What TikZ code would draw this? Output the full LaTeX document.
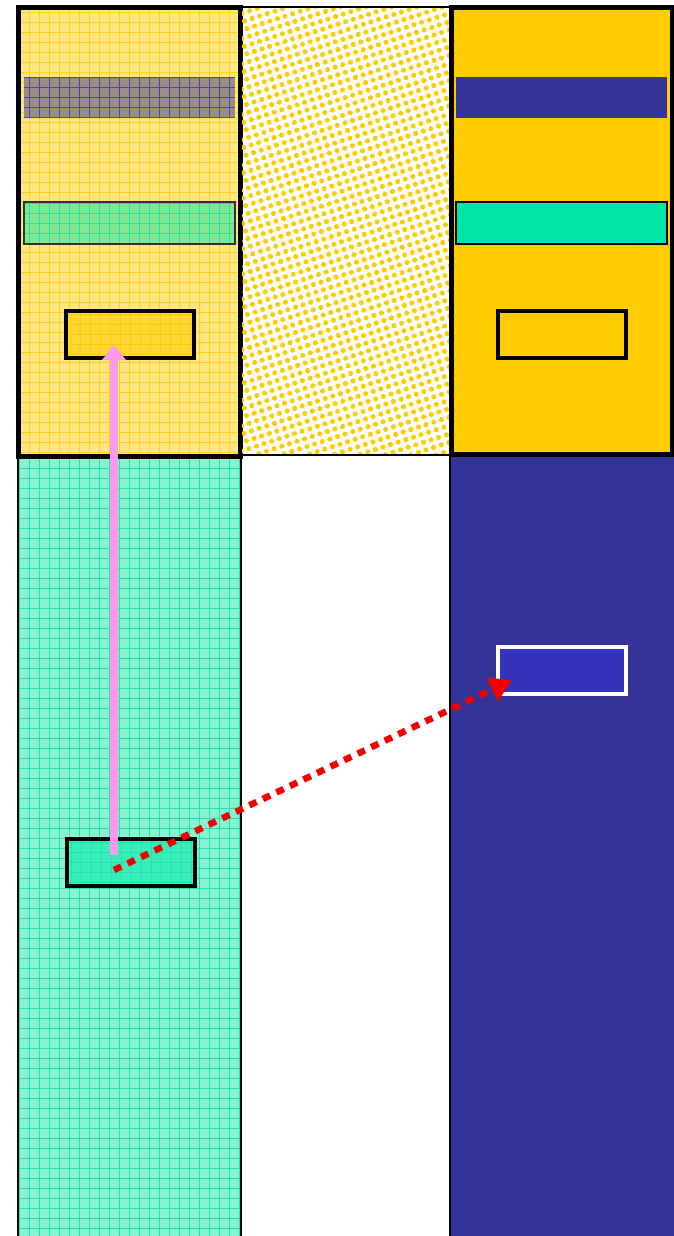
\documentclass[tikz,border=0pt]{standalone}
\usetikzlibrary{arrows.meta, positioning, patterns, patterns.meta}
\definecolor{lpale}{HTML}{FFE680}
\definecolor{lgline}{HTML}{FFD21F}
\definecolor{lgold}{HTML}{FFCC00}
\definecolor{lnavy}{HTML}{333399}
\definecolor{lblue}{HTML}{3333BB}
\definecolor{ltealpale}{HTML}{88F3D3}
\definecolor{ltline}{HTML}{22E6A6}
\definecolor{lteal}{HTML}{00E5A5}
\definecolor{ltealbox}{HTML}{38EEBA}
\definecolor{lgreen}{HTML}{80E890}
\definecolor{lgray}{HTML}{9A8E84}
\definecolor{lgrayline}{HTML}{4A44A8}
\definecolor{lpink}{HTML}{FF99EE}
\definecolor{lred}{HTML}{F20000}
\tikzset{
  cell/.style={rectangle, inner sep=0pt, outer sep=0pt},
  gridfill/.style={path picture={\draw[#1, line width=0.8pt, step=10pt]
      (path picture bounding box.south west) grid (path picture bounding box.north east);}},
  ylane/.style={cell, draw=black, line width=5pt, fill=lpale, gridfill=lgline,
                minimum width=222pt, minimum height=449pt},
  tlane/.style={cell, draw=black, line width=2pt, fill=ltealpale, gridfill=ltline,
                minimum width=223pt, minimum height=783pt},
  dlane/.style={cell, draw=black, line width=1.5pt, fill=white,
                pattern={Dots[distance=8pt, radius=2.6pt, angle=18]}, pattern color=lgold,
                minimum width=209pt, minimum height=448pt},
  glane/.style={cell, draw=black, line width=5pt, fill=lgold,
                minimum width=221pt, minimum height=447pt},
  nlane/.style={cell, draw=black, line width=2pt, fill=lnavy,
                minimum width=225pt, minimum height=785pt},
  band/.style={cell, minimum width=211pt, minimum height=42pt},
  smallbox/.style={cell, line width=3.5pt, minimum width=128pt, minimum height=47pt},
  uparr/.style={-{Triangle[length=15pt, width=23pt]}, line width=8pt, lpink},
  dotarr/.style={-{Triangle[length=22pt, width=25pt]}, line width=6.5pt, lred,
                 dash pattern=on 8pt off 7pt},
}
\begin{document}
\begin{tikzpicture}[x=1pt, y=-1pt]
  \useasboundingbox (0,0) rectangle (673,1236);
  % lanes
  \node[tlane] (tealLane) at (129.5,848.5) {};
  \node[ylane] (yellowLane) at (129.5,232) {};
  \node[dlane] (dotLane) at (345.5,231) {};
  \node[nlane] (navyLane) at (562.5,848.5) {};
  \node[glane] (goldLane) at (562,231) {};

  % left lane
  \node[band, fill=lgray, gridfill=lgrayline, minimum height=41pt] (grayBand) at (129.5,97.5) {};
  \node[band, fill=lgreen, gridfill=ltline, draw=black!80, line width=1.5pt] (greenBand) at (129.5,223) {};
  \node[smallbox, draw=black, fill=lgold!80, gridfill=lgold] (yellowBox) at (130,334.5) {};
  \node[smallbox, draw=black, fill=ltealbox, gridfill=ltline] (tealBox) at (131,862.5) {};

  % right lane
  \node[band, fill=lnavy, minimum height=41pt] (navyBand) at (561.5,97.5) {};
  \node[band, fill=lteal, draw=black, line width=1.5pt] (tealBand) at (561.5,223) {};
  \node[smallbox, draw=black, fill=lgold] (goldBox) at (562,334.5) {};
  \node[smallbox, draw=white, fill=lblue] (blueBox) at (562,670.5) {};

  \draw[uparr] ([xshift=-17pt, yshift=-16pt]tealBox.north) -- ([xshift=-16pt, yshift=13pt]yellowBox.south);
  \draw[dotarr] ([xshift=-17pt, yshift=-7.5pt]tealBox.center) -- ([xshift=-50pt, yshift=-9.5pt]blueBox.center);
\end{tikzpicture}
\end{document}
